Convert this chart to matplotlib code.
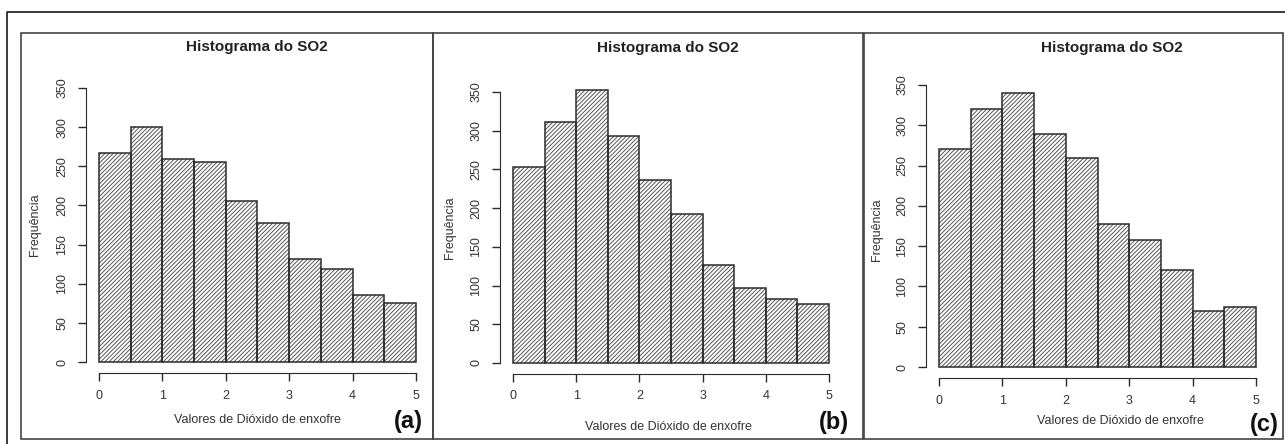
import matplotlib
matplotlib.use('Agg')
import matplotlib.pyplot as plt
from matplotlib.patches import Rectangle
from matplotlib.lines import Line2D
import numpy as np

plt.rcParams['font.family'] = ['Liberation Sans', 'DejaVu Sans']
plt.rcParams['hatch.linewidth'] = 0.7

W, H = 1285, 444

# frequencies per bin of width 0.5 (0 - 5)
bin_edges = [0, 0.5, 1, 1.5, 2, 2.5, 3, 3.5, 4, 4.5, 5]
counts_a = [267, 300, 259, 255, 206, 178, 132, 119, 86, 76]
counts_b = [253, 311, 353, 293, 236, 193, 126, 97, 82, 76]
counts_c = [271, 320, 340, 289, 260, 177, 158, 121, 70, 75]
panel_tags = ['(a)', '(b)', '(c)']
title = 'Histograma do SO2'
xlabel = 'Valores de Dióxido de enxofre'
ylabel = 'Frequência'
xticks = [0, 1, 2, 3, 4, 5]
yticks = [0, 50, 100, 150, 200, 250, 300, 350]

# pixel layout: axes box (left, top, right, bottom), panel box, text anchors
axes_px = [(86.3, 77.0, 428.6, 373.0),
           (500.4, 81.2, 841.7, 373.8),
           (926.3, 73.7, 1268.7, 378.3)]
panel_px = [(21, 33, 433, 439), (433, 33, 863, 439), (864, 33, 1283, 439)]
title_xy = [(257, 47), (668, 48), (1112, 48)]
xlab_xy = [(257, 420), (668, 427), (1120, 421)]
ylab_xy = [(35, 225), (450, 228), (877, 230)]
tag_xy = [(408, 421), (834, 422), (1264, 424)]

ink = '#2b2b2b'


def fx(x):
    return x / W


def fy(y):
    return 1 - y / H


fig = plt.figure(figsize=(W / 100, H / 100), dpi=100)

# outer frame (left and top)
fig.add_artist(Line2D([fx(7), fx(7), fx(1285)], [fy(444), fy(12), fy(12)],
                      transform=fig.transFigure, color=ink, lw=1.3))

for i, counts in enumerate([counts_a, counts_b, counts_c]):
    l, t, r, b = panel_px[i]
    fig.add_artist(Rectangle((fx(l), fy(b)), fx(r) - fx(l), fy(t) - fy(b),
                             transform=fig.transFigure, fill=False,
                             edgecolor='#444444', lw=1.2))

    al, at, ar, ab = axes_px[i]
    ax = fig.add_axes([fx(al), fy(ab), fx(ar) - fx(al), fy(at) - fy(ab)])
    ax.set_facecolor('none')
    # hatching in a softer grey, then the bar outlines on top
    ax.bar(bin_edges[:-1], counts, width=0.5, align='edge', color='white',
           edgecolor='#555555', hatch='////////', linewidth=0)
    ax.bar(bin_edges[:-1], counts, width=0.5, align='edge', fill=False,
           edgecolor=ink, linewidth=1.1)
    ax.set_xlim(-0.2, 5.2)
    ax.set_ylim(-14, 364)
    for s in ['top', 'right']:
        ax.spines[s].set_visible(False)
    ax.spines['left'].set_bounds(0, 350)
    ax.spines['bottom'].set_bounds(0, 5)
    ax.spines['left'].set_color(ink)
    ax.spines['bottom'].set_color(ink)
    ax.set_xticks(xticks)
    ax.set_yticks(yticks)
    ax.tick_params(axis='both', direction='out', length=6, width=1,
                   color=ink, labelcolor='#333333', labelsize=9)
    ax.tick_params(axis='y', pad=7)
    ax.tick_params(axis='x', pad=6)
    for lab in ax.get_yticklabels():
        lab.set_rotation(90)
        lab.set_va('center')

    fig.text(fx(title_xy[i][0]), fy(title_xy[i][1]), title, ha='center',
             va='center', fontsize=11, fontweight='bold', color='#222222')
    fig.text(fx(xlab_xy[i][0]), fy(xlab_xy[i][1]), xlabel, ha='center',
             va='center', fontsize=9, color='#333333')
    fig.text(fx(ylab_xy[i][0]), fy(ylab_xy[i][1]), ylabel, ha='center',
             va='center', fontsize=9, color='#333333', rotation=90)
    fig.text(fx(tag_xy[i][0]), fy(tag_xy[i][1]), panel_tags[i], ha='center',
             va='center', fontsize=17, fontweight='bold', color='#111111')

fig.savefig('out.png', dpi=100)
